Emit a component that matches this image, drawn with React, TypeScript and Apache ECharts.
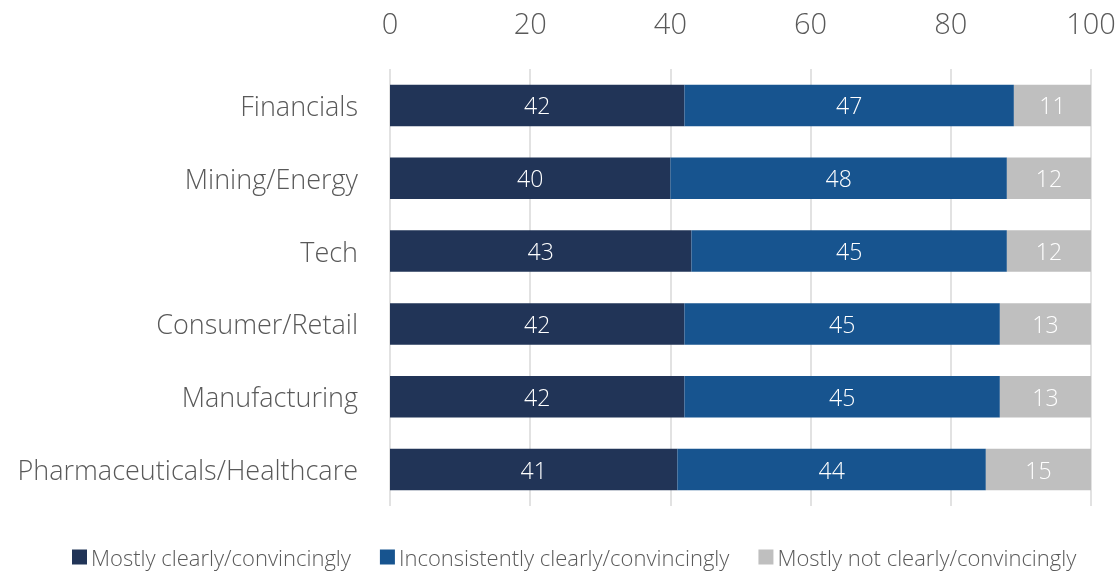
import React, { useEffect, useRef } from "react";
import * as echarts from "echarts";

const categories = [
  "Financials",
  "Mining/Energy",
  "Tech",
  "Consumer/Retail",
  "Manufacturing",
  "Pharmaceuticals/Healthcare",
];
const mostlyClearly = [42, 40, 43, 42, 42, 41];
const inconsistently = [47, 48, 45, 45, 45, 44];
const mostlyNot = [11, 12, 12, 13, 13, 15];
const seriesNames = [
  "Mostly clearly/convincingly",
  "Inconsistently clearly/convincingly",
  "Mostly not clearly/convincingly",
];
const colors = ["#213457", "#17548f", "#bfbfbf"];

const FONT = "'Open Sans', 'Noto Sans', sans-serif";

export default function App() {
  const ref = useRef<HTMLDivElement>(null);
  useEffect(() => {
    if (!ref.current) return;
    const chart = echarts.init(ref.current, undefined, { renderer: "svg" });
    const values = [mostlyClearly, inconsistently, mostlyNot];
    chart.setOption({
      animation: false,
      textStyle: { fontFamily: FONT },
      color: colors,
      grid: { left: 390, right: 29, top: 69, bottom: 66, containLabel: false },
      legend: {
        top: 544,
        left: 72,
        padding: 0,
        itemWidth: 15,
        itemHeight: 15,
        itemGap: 29,
        icon: "rect",
        textStyle: {
          fontFamily: FONT,
          fontSize: 22,
          lineHeight: 26,
          fontWeight: 300,
          color: "#595959",
          padding: [0, 0, 0, -1],
        },
        data: seriesNames,
      },
      xAxis: {
        type: "value",
        position: "top",
        min: 0,
        max: 100,
        interval: 20,
        axisLine: { show: false },
        axisTick: { show: false },
        axisLabel: {
          fontFamily: FONT,
          fontSize: 29,
          fontWeight: 300,
          color: "#595959",
          margin: 32,
        },
        splitLine: { show: true, lineStyle: { color: "#d9d9d9", width: 1.5 } },
      },
      yAxis: {
        type: "category",
        inverse: true,
        data: categories,
        axisLine: { show: false },
        axisTick: { show: false },
        axisLabel: {
          fontFamily: FONT,
          fontSize: 27,
          fontWeight: 300,
          color: "#595959",
          margin: 32,
        },
      },
      series: seriesNames.map((name, i) => ({
        name,
        type: "bar",
        stack: "total",
        barWidth: "57%",
        data: values[i],
        label: {
          show: true,
          position: "inside",
          color: "#ffffff",
          fontFamily: FONT,
          fontSize: 23,
          fontWeight: 300,
        },
        emphasis: { disabled: true },
      })),
    });
    return () => chart.dispose();
  }, []);
  return (
    <div
      ref={ref}
      style={{ position: "fixed", left: 0, top: 0, width: 1120, height: 572 }}
    />
  );
}
